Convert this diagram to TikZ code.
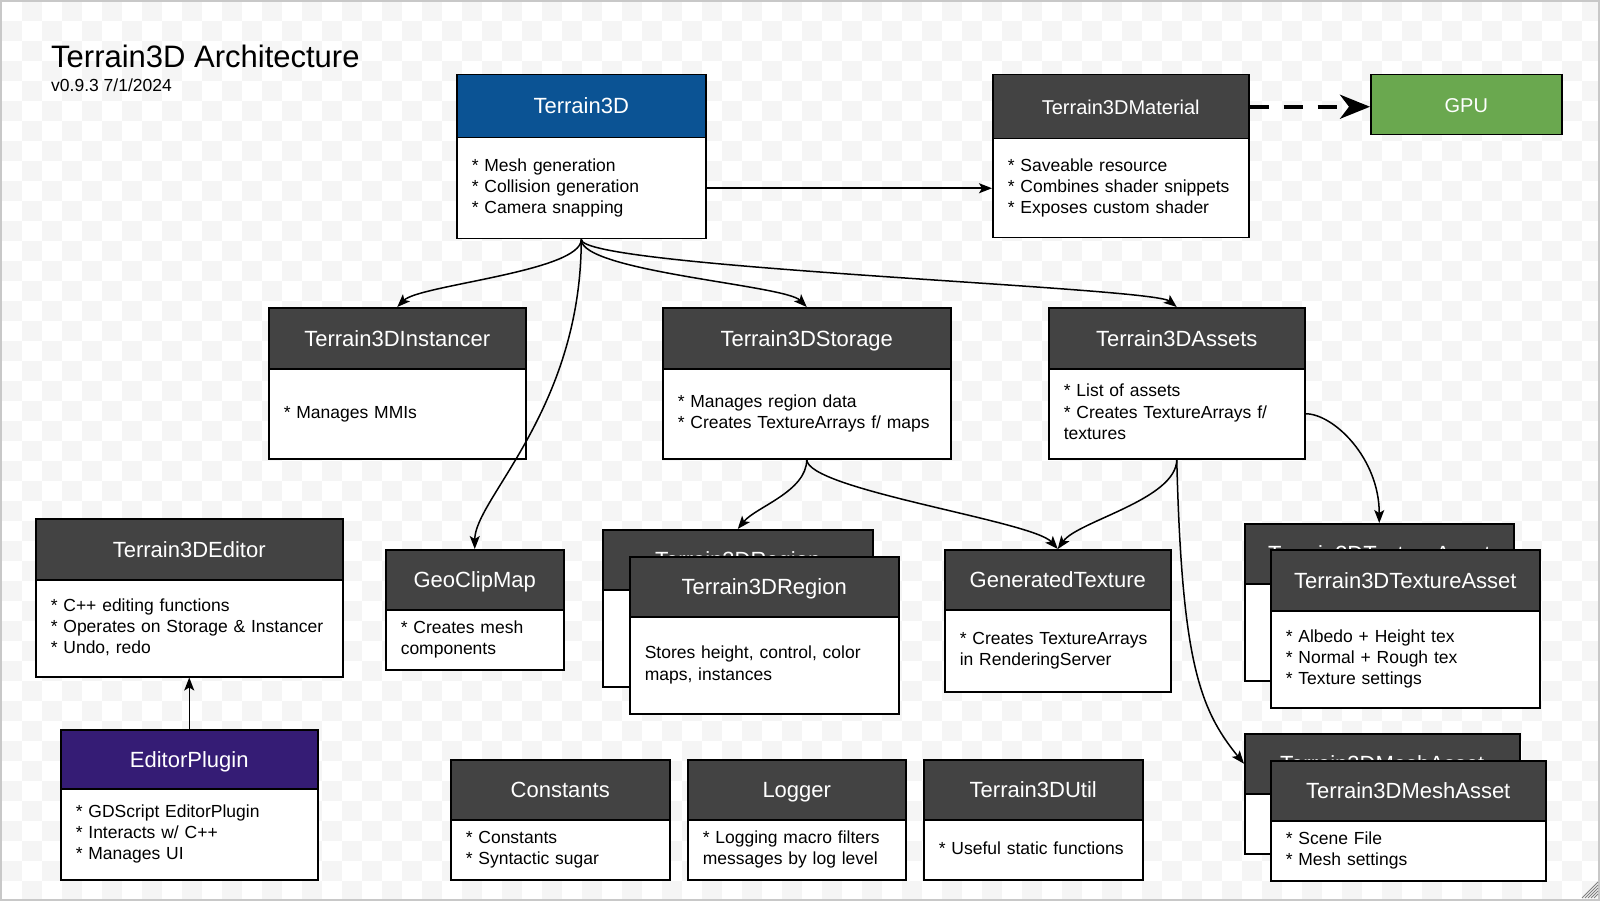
\documentclass[tikz,border=0pt]{standalone}
\usepackage{fontspec}
\setmainfont{Liberation Sans}
\usetikzlibrary{arrows.meta}

\definecolor{docblue}{HTML}{0B5394}
\definecolor{docpurple}{HTML}{351C75}
\definecolor{docgreen}{HTML}{6AA84F}
\definecolor{hdrgray}{HTML}{434343}
\definecolor{chkgray}{HTML}{F5F5F5}
\definecolor{rimgray}{HTML}{C8C8C8}

\newcommand{\hdrfont}{\fontsize{22}{26}\selectfont}
\newcommand{\topfont}{\fontsize{20}{24}\selectfont}
\newcommand{\bdyfont}{\fontsize{17.5}{21.4}\selectfont}

\tikzset{
  box/.style={draw=black, line width=1.5pt, anchor=north west, inner sep=0pt},
  hdr/.style={box, fill=hdrgray, text=white, font=\hdrfont, minimum width=#1, text height=15.5pt, text depth=0pt},
  bdy/.style={box, fill=white, font=\bdyfont, align=left, inner xsep=15pt, text width=#1-30pt,
    execute at begin node=\strut, execute at end node=\strut},
  arr/.style={->, line width=1.5pt},
}

\begin{document}
\begin{tikzpicture}[x=1pt, y=-1pt, >={Stealth[length=13pt,width=10pt,inset=3pt]}]

\useasboundingbox (0,0) rectangle (1600,901);

% background
\begin{scope}
\clip (0,0) rectangle (1600,901);
\foreach \i in {0,...,79} {
  \pgfmathtruncatemacro{\off}{mod(\i+1,2)}
  \foreach \j in {0,...,22}
    \fill [chkgray] ({2+\i*20},{1+(2*\j+\off)*20}) rectangle +(20,20);
}
\end{scope}
\draw [rimgray, line width=2pt] (1,1) rectangle (1599,900);
\foreach \k in {4,7,10,13,16}
  \draw [gray, line width=0.8pt] ({1598-\k},898) -- (1598,{898-\k});

\node (title) at (51,68) [anchor=base west, inner sep=0pt, font=\fontsize{31}{35}\selectfont] {Terrain3D Architecture};
\node (ver) at (51,92) [anchor=base west, inner sep=0pt, font=\bdyfont] {v0.9.3 7/1/2024};

% top row
\node (T3D) at (456,74) [hdr=249, minimum height=63, fill=docblue] {Terrain3D};
\node (T3Db) at (456,137) [bdy=249, minimum height=101] {* Mesh generation\\{}* Collision generation\\{}* Camera snapping};
\node (Mat) at (992,74) [hdr=256, minimum height=64, font=\topfont] {Terrain3DMaterial};
\node (Matb) at (992,138) [bdy=256, minimum height=99] {* Saveable resource\\{}* Combines shader snippets\\{}* Exposes custom shader};
\node (GPU) at (1370,74) [hdr=191, minimum height=60, fill=docgreen, font=\topfont] {GPU};

% second row
\node (Inst) at (268,307) [hdr=257, minimum height=61] {Terrain3DInstancer};
\node (Instb) at (268,368) [bdy=257, minimum height=90] {* Manages MMIs};
\node (Stor) at (662,307) [hdr=288, minimum height=61] {Terrain3DStorage};
\node (Storb) at (662,368) [bdy=288, minimum height=90] {* Manages region data\\{}* Creates TextureArrays f/ maps};
\node (Asset) at (1048,307) [hdr=256, minimum height=61] {Terrain3DAssets};
\node (Assetb) at (1048,368) [bdy=256, minimum height=90] {* List of assets\\{}* Creates TextureArrays f/\\textures};

% third row
\node (Edit) at (35,518) [hdr=307, minimum height=61] {Terrain3DEditor};
\node (Editb) at (35,579) [bdy=307, minimum height=97] {* C++ editing functions\\{}* Operates on Storage \& Instancer\\{}* Undo, redo};
\node (GCM) at (385,549) [hdr=178, minimum height=60] {GeoClipMap};
\node (GCMb) at (385,609) [bdy=178, minimum height=60] {* Creates mesh\\components};
\node (RegB) at (602,529) [hdr=270, minimum height=60] {Terrain3DRegion};
\node (RegBb) at (602,589) [bdy=270, minimum height=97] {};
\node (Reg) at (629,556) [hdr=269, minimum height=60] {Terrain3DRegion};
\node (Regb) at (629,616) [bdy=269, minimum height=97] {Stores height, control, color\\maps, instances};
\node (GenT) at (944,549) [hdr=226, minimum height=60] {GeneratedTexture};
\node (GenTb) at (944,609) [bdy=226, minimum height=82] {* Creates TextureArrays\\in RenderingServer};
\node (TexB) at (1244,523) [hdr=269, minimum height=60] {Terrain3DTextureAsset};
\node (TexBb) at (1244,583) [bdy=269, minimum height=97] {};
\node (Tex) at (1270,549) [hdr=269, minimum height=61] {Terrain3DTextureAsset};
\node (Texb) at (1270,610) [bdy=269, minimum height=97] {* Albedo + Height tex\\{}* Normal + Rough tex\\{}* Texture settings};

% bottom row
\node (EPlug) at (60,729) [hdr=257, minimum height=59, fill=docpurple] {EditorPlugin};
\node (EPlugb) at (60,788) [bdy=257, minimum height=91] {* GDScript EditorPlugin\\{}* Interacts w/ C++\\{}* Manages UI};
\node (Const) at (450,759) [hdr=219, minimum height=60] {Constants};
\node (Constb) at (450,819) [bdy=219, minimum height=60] {* Constants\\{}* Syntactic sugar};
\node (Log) at (687,759) [hdr=218, minimum height=60] {Logger};
\node (Logb) at (687,819) [bdy=218, minimum height=60] {* Logging macro filters\\messages by log level};
\node (Util) at (923,759) [hdr=219, minimum height=60] {Terrain3DUtil};
\node (Utilb) at (923,819) [bdy=219, minimum height=60] {* Useful static functions};
\node (MeshB) at (1244,733) [hdr=275, minimum height=60] {Terrain3DMeshAsset};
\node (MeshBb) at (1244,793) [bdy=275, minimum height=60] {};
\node (Mesh) at (1270,760) [hdr=275, minimum height=60] {Terrain3DMeshAsset};
\node (Meshb) at (1270,820) [bdy=275, minimum height=60] {* Scene File\\{}* Mesh settings};

% connectors
\draw [arr] (T3Db.east) -- (Matb.west);
\draw [line width=4pt, dash pattern=on 19pt off 15pt, -{Stealth[length=30pt,width=24pt,inset=9pt]}] (Mat.east) -- (Mat.east -| GPU.west);
\draw [arr] (T3Db.south) .. controls +(0,32) and +(22,-22) .. (Inst.north);
\draw [arr] (T3Db.south) .. controls +(0,170) and +(0,-50) .. (GCM.north);
\draw [arr] (T3Db.south) .. controls +(0,32) and +(-22,-22) .. (Stor.north);
\draw [arr] (T3Db.south) .. controls +(0,28) and +(-25,-20) .. (Asset.north);
\draw [arr] (Storb.south) .. controls +(0,32) and +(18,-22) .. (RegB.north);
\draw [arr] (Storb.south) .. controls +(0,30) and +(-25,-28) .. (GenT.north);
\draw [arr] (Assetb.south) .. controls +(0,40) and +(20,-28) .. (GenT.north);
\draw [arr] (Assetb.south) .. controls +(5,200) and +(-45,-55) .. (MeshB.west);
\draw [arr] (Assetb.east) .. controls +(28,0) and +(0,-65) .. (TexB.north);
\draw [arr] (EPlug.north) -- (Editb.south);

\end{tikzpicture}
\end{document}
